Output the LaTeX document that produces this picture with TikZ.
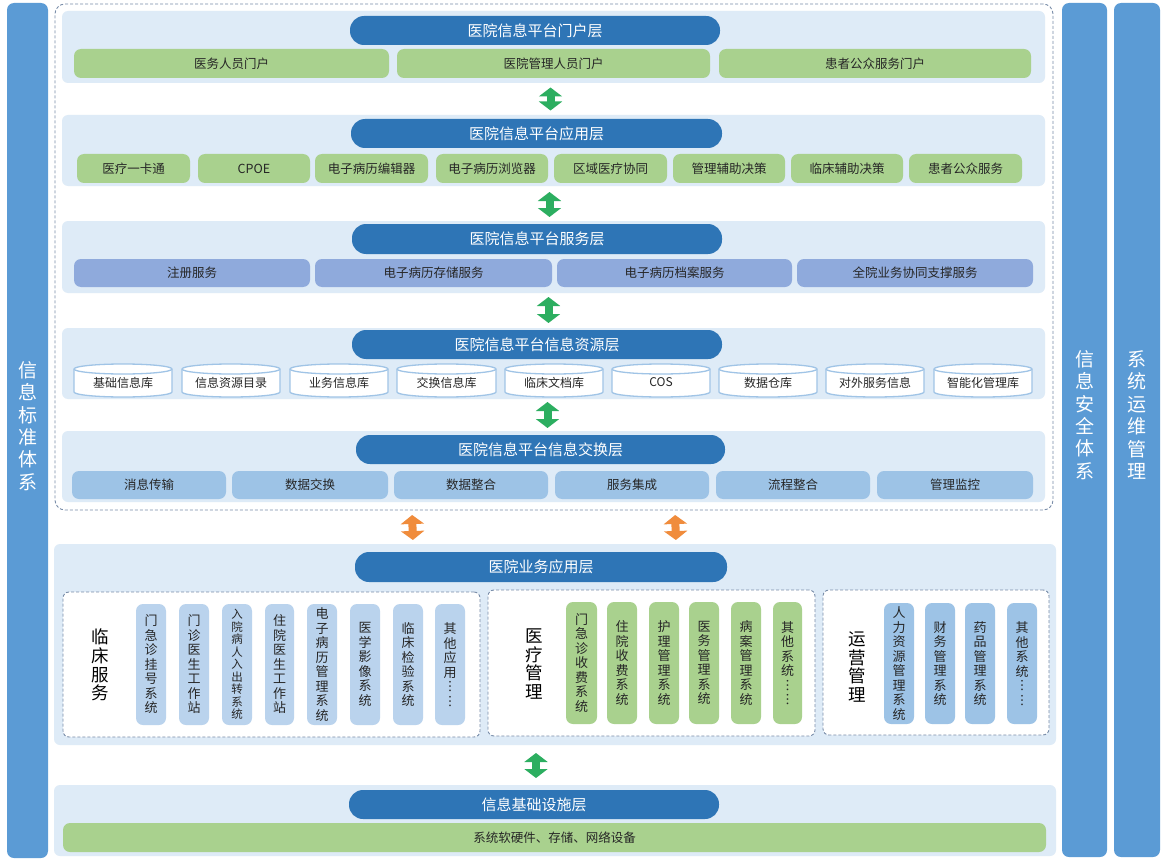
\documentclass[tikz,border=0pt]{standalone}
\usepackage{fontspec}
\setmainfont{Noto Sans CJK SC}
\usetikzlibrary{arrows.meta}
\definecolor{sidebar}{RGB}{91,155,213}
\definecolor{titleblue}{RGB}{46,117,182}
\definecolor{layerbg}{RGB}{222,235,247}
\definecolor{itemgreen}{RGB}{169,209,142}
\definecolor{itempurple}{RGB}{143,170,220}
\definecolor{itemblue}{RGB}{157,195,230}
\definecolor{pilllight}{RGB}{186,211,237}
\definecolor{pillops}{RGB}{157,195,230}
\definecolor{cylborder}{RGB}{160,196,230}
\definecolor{dashgray}{RGB}{120,140,168}
\definecolor{arrowgreen}{RGB}{44,174,96}
\definecolor{arroworange}{RGB}{240,140,60}
\definecolor{txt}{RGB}{38,38,38}
\newcommand\boxat[7]{\node[#2, minimum width={#5-#3}, minimum height={#6-#4}] (#1) at ({(#3+#5)/2},{(#4+#6)/2}) {#7};}
\newcommand\cyl[4]{%
  \node[cylnode, minimum width={#3-#2}, minimum height=33] (#1) at ({(#2+#3)/2},380.5) {};
  \draw[cylborder, fill=white, line width=1.3pt] ([yshift=-5pt]#1.north west) -- ([yshift=5pt]#1.south west)
    arc[start angle=180,end angle=360,x radius={(#3-#2)/2*1pt},y radius=5pt]
    -- ([yshift=-5pt]#1.north east)
    arc[start angle=0,end angle=180,x radius={(#3-#2)/2*1pt},y radius=5pt] -- cycle;
  \draw[cylborder, line width=1.3pt] ([yshift=-5pt]#1.north east)
    arc[start angle=0,end angle=-180,x radius={(#3-#2)/2*1pt},y radius=5pt];
  \node[cylnode] (#1t) at ([yshift=-2pt]#1.center) {#4};
}
\tikzset{
  base/.style={inner sep=0pt, outer sep=0pt, align=center},
  sidebarbox/.style={base, fill=sidebar, rounded corners=7pt},
  sidetext/.style={base, text=white, font=\fontsize{19}{22.4}\selectfont},
  platbox/.style={base, draw=dashgray, dash pattern=on 3pt off 2pt, line width=0.9pt, rounded corners=10pt},
  layerbox/.style={base, fill=layerbg, rounded corners=6pt},
  titlepill/.style={base, fill=titleblue, rounded corners=14pt, text=white, font=\fontsize{15}{18}\selectfont},
  hitem/.style={base, rounded corners=7pt, text=txt, font=\fontsize{12.5}{15}\selectfont},
  gitem/.style={hitem, fill=itemgreen},
  pitem/.style={hitem, fill=itempurple},
  bitem/.style={hitem, fill=itemblue},
  cylnode/.style={base, text=txt, font=\fontsize{12}{14}\selectfont},
  subbox/.style={base, draw=dashgray, dash pattern=on 3pt off 2pt, fill=white, line width=0.9pt, rounded corners=6pt},
  sublabel/.style={base, text=black, font=\fontsize{17.5}{18.7}\selectfont},
  vpill/.style={base, rounded corners=7pt, text=txt, font=\fontsize{13}{14.5}\selectfont},
  vclin/.style={vpill, fill=pilllight},
  vmed/.style={vpill, fill=itemgreen},
  vops/.style={vpill, fill=pillops},
  small/.style={font=\fontsize{11.5}{12.5}\selectfont},
  updown/.style={line width=8pt, {Triangle[width=23pt,length=9pt]}-{Triangle[width=23pt,length=9pt]}},
}
\begin{document}
\begin{tikzpicture}[x=1pt,y=-1pt]
\useasboundingbox[fill=white] (0,0) rectangle (1165,864);
% side bars
\boxat{stdbar}{sidebarbox}{7}{3}{48}{858}{}
\node[sidetext] (stdtxt) at (27.5,426) {信\\息\\标\\准\\体\\系};
\boxat{secbar}{sidebarbox}{1062}{3}{1107}{857}{}
\node[sidetext] (sectxt) at (1084.5,415) {信\\息\\安\\全\\体\\系};
\boxat{opsbar}{sidebarbox}{1114}{3}{1160}{857}{}
\node[sidetext] (opstxt) at (1137,415) {系\\统\\运\\维\\管\\理};
% platform dashed frame
\boxat{plat}{platbox}{55}{4}{1053}{510}{}
% layer 1
\boxat{L1}{layerbox}{62}{11}{1045}{83}{}
\boxat{T1}{titlepill}{350}{16}{720}{45}{医院信息平台门户层}
\boxat{p1}{gitem}{74}{49}{389}{78}{医务人员门户}
\boxat{p2}{gitem}{397}{49}{710}{78}{医院管理人员门户}
\boxat{p3}{gitem}{719}{49}{1031}{78}{患者公众服务门户}
% layer 2
\boxat{L2}{layerbox}{62}{115}{1045}{186}{}
\boxat{T2}{titlepill}{351}{119}{722}{148}{医院信息平台应用层}
\boxat{a1}{gitem}{77}{154}{190}{183}{医疗一卡通}
\boxat{a2}{gitem}{198}{154}{310}{183}{CPOE}
\boxat{a3}{gitem}{315}{154}{428}{183}{电子病历编辑器}
\boxat{a4}{gitem}{436}{154}{548}{183}{电子病历浏览器}
\boxat{a5}{gitem}{554}{154}{667}{183}{区域医疗协同}
\boxat{a6}{gitem}{673}{154}{785}{183}{管理辅助决策}
\boxat{a7}{gitem}{791}{154}{903}{183}{临床辅助决策}
\boxat{a8}{gitem}{909}{154}{1022}{183}{患者公众服务}
% layer 3
\boxat{L3}{layerbox}{62}{221}{1045}{293}{}
\boxat{T3}{titlepill}{352}{224}{722}{254}{医院信息平台服务层}
\boxat{s1}{pitem}{74}{259}{310}{287}{注册服务}
\boxat{s2}{pitem}{315}{259}{552}{287}{电子病历存储服务}
\boxat{s3}{pitem}{557}{259}{792}{287}{电子病历档案服务}
\boxat{s4}{pitem}{797}{259}{1033}{287}{全院业务协同支撑服务}
% layer 4
\boxat{L4}{layerbox}{62}{328}{1045}{399}{}
\boxat{T4}{titlepill}{352}{330}{722}{359}{医院信息平台信息资源层}
\cyl{c1}{74}{172}{基础信息库}
\cyl{c2}{182}{280}{信息资源目录}
\cyl{c3}{290}{388}{业务信息库}
\cyl{c4}{397}{496}{交换信息库}
\cyl{c5}{505}{603}{临床文档库}
\cyl{c6}{612}{710}{COS}
\cyl{c7}{719}{817}{数据仓库}
\cyl{c8}{826}{924}{对外服务信息}
\cyl{c9}{934}{1032}{智能化管理库}
% layer 5
\boxat{L5}{layerbox}{62}{431}{1045}{502}{}
\boxat{T5}{titlepill}{356}{435}{725}{464}{医院信息平台信息交换层}
\boxat{e1}{bitem}{72}{471}{226}{499}{消息传输}
\boxat{e2}{bitem}{232}{471}{388}{499}{数据交换}
\boxat{e3}{bitem}{394}{471}{548}{499}{数据整合}
\boxat{e4}{bitem}{555}{471}{709}{499}{服务集成}
\boxat{e5}{bitem}{716}{471}{870}{499}{流程整合}
\boxat{e6}{bitem}{877}{471}{1033}{499}{管理监控}
% layer 6
\boxat{L6}{layerbox}{54}{544}{1056}{745}{}
\boxat{T6}{titlepill}{355}{552}{727}{582}{医院业务应用层}
\boxat{S1}{subbox}{63}{592}{480}{737}{}
\boxat{S2}{subbox}{488}{590}{815}{736}{}
\boxat{S3}{subbox}{823}{590}{1049}{735}{}
\node[sublabel] (S1l) at (100,665) {临\\床\\服\\务};
\node[sublabel] (S2l) at (534,664) {医\\疗\\管\\理};
\node[sublabel] (S3l) at (857,667) {运\\营\\管\\理};
\boxat{k1}{vclin}{136}{604}{166}{725}{门\\急\\诊\\挂\\号\\系\\统}
\boxat{k2}{vclin}{179}{604}{209}{725}{门\\诊\\医\\生\\工\\作\\站}
\boxat{k3}{vclin,small}{222}{604}{252}{725}{入\\院\\病\\人\\入\\出\\转\\系\\统}
\boxat{k4}{vclin}{265}{604}{294}{725}{住\\院\\医\\生\\工\\作\\站}
\boxat{k5}{vclin}{307}{604}{337}{725}{电\\子\\病\\历\\管\\理\\系\\统}
\boxat{k6}{vclin}{350}{604}{380}{725}{医\\学\\影\\像\\系\\统}
\boxat{k7}{vclin}{393}{604}{423}{725}{临\\床\\检\\验\\系\\统}
\boxat{k8}{vclin}{435}{604}{465}{725}{其\\他\\应\\用\\︙\\︙}
\boxat{m1}{vmed}{566}{602}{597}{724}{门\\急\\诊\\收\\费\\系\\统}
\boxat{m2}{vmed}{607}{602}{637}{724}{住\\院\\收\\费\\系\\统}
\boxat{m3}{vmed}{649}{602}{679}{724}{护\\理\\管\\理\\系\\统}
\boxat{m4}{vmed}{689}{602}{719}{724}{医\\务\\管\\理\\系\\统}
\boxat{m5}{vmed}{731}{602}{761}{724}{病\\案\\管\\理\\系\\统}
\boxat{m6}{vmed}{773}{602}{802}{724}{其\\他\\系\\统\\︙\\︙}
\boxat{o1}{vops}{884}{603}{914}{724}{人\\力\\资\\源\\管\\理\\系\\统}
\boxat{o2}{vops}{925}{603}{955}{724}{财\\务\\管\\理\\系\\统}
\boxat{o3}{vops}{965}{603}{995}{724}{药\\品\\管\\理\\系\\统}
\boxat{o4}{vops}{1007}{603}{1037}{724}{其\\他\\系\\统\\︙\\︙}
% layer 7
\boxat{L7}{layerbox}{54}{785}{1056}{856}{}
\boxat{T7}{titlepill}{349}{790}{719}{819}{信息基础设施层}
\boxat{i1}{gitem}{63}{823}{1046}{852}{系统软硬件、存储、网络设备}
% arrows
\draw[updown, arrowgreen, shorten <=4.5pt, shorten >=4.5pt] ([xshift=-3pt]L1.south) -- ([xshift=-3pt]L2.north);
\draw[updown, arrowgreen, shorten <=6pt, shorten >=4pt] ([xshift=-4pt]L2.south) -- ([xshift=-4pt]L3.north);
\draw[updown, arrowgreen, shorten <=4pt, shorten >=5pt] ([xshift=-5pt]L3.south) -- ([xshift=-5pt]L4.north);
\draw[updown, arrowgreen, shorten <=3pt, shorten >=3pt] ([xshift=-6pt]L4.south) -- ([xshift=-6pt]L5.north);
\draw[updown, arroworange, shorten <=5pt, shorten >=4pt] ([xshift=-142pt]plat.south) -- ([xshift=-142pt]L6.north);
\draw[updown, arroworange, shorten <=5pt, shorten >=4pt] ([xshift=121pt]plat.south) -- ([xshift=121pt]L6.north);
\draw[updown, arrowgreen, shorten <=8pt, shorten >=7pt] ([xshift=-19pt]L6.south) -- ([xshift=-19pt]L7.north);
\end{tikzpicture}
\end{document}
